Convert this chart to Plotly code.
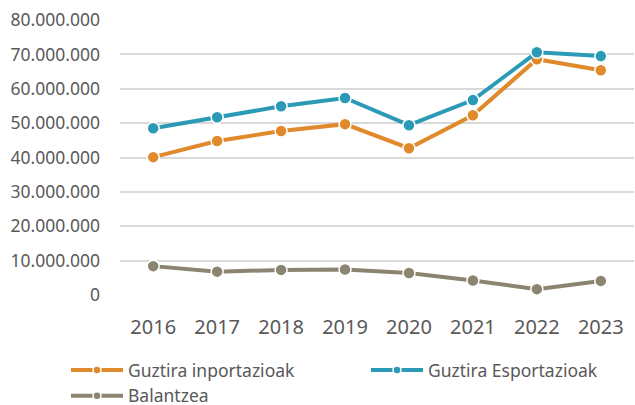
import plotly.graph_objects as go

years = ["2016", "2017", "2018", "2019", "2020", "2021", "2022", "2023"]
imports_total = [40_100_000, 44_800_000, 47_700_000, 49_700_000, 42_700_000, 52_300_000, 68_600_000, 65_400_000]
exports_total = [48_500_000, 51_700_000, 54_900_000, 57_300_000, 49_400_000, 56_700_000, 70_600_000, 69_500_000]
balance = [8_400_000, 6_800_000, 7_300_000, 7_400_000, 6_400_000, 4_200_000, 1_700_000, 4_100_000]

y_ticks = [0, 10_000_000, 20_000_000, 30_000_000, 40_000_000, 50_000_000, 60_000_000, 70_000_000, 80_000_000]
y_tick_text = ["0", "10.000.000", "20.000.000", "30.000.000", "40.000.000",
               "50.000.000", "60.000.000", "70.000.000", "80.000.000"]

series = [
    ("Guztira inportazioak", imports_total, "#E08A2C"),
    ("Guztira Esportazioak", exports_total, "#2A9AB6"),
    ("Balantzea", balance, "#8B8470"),
]

fig = go.Figure()
for name, values, color in series:
    fig.add_trace(go.Scatter(
        x=years, y=values, name=name, mode="lines+markers",
        line=dict(color=color, width=4),
        marker=dict(color=color, size=12, line=dict(color="white", width=1.5)),
        showlegend=False, legendgroup=name,
    ))
# legend keys with a smaller dot than the plotted markers
for name, values, color in series:
    fig.add_trace(go.Scatter(
        x=[None], y=[None], name=name, mode="lines+markers",
        line=dict(color=color, width=4),
        marker=dict(color=color, size=8, line=dict(color="white", width=1.5)),
        showlegend=True, legendgroup=name,
    ))

font_family = "Noto Sans"
text_color = "#595959"

plot_left, plot_w = 120, 514
plot_top, plot_h = 20, 275

fig.update_layout(
    width=635, height=405,
    margin=dict(l=plot_left, r=635 - plot_left - plot_w, t=plot_top,
                b=405 - plot_top - plot_h, autoexpand=False),
    paper_bgcolor="white", plot_bgcolor="white",
    font=dict(family=font_family, color=text_color),
    showlegend=True,
    legend=dict(
        orientation="h",
        x=(66 - plot_left) / plot_w, y=-(352 - plot_top - plot_h) / plot_h,
        xanchor="left", yanchor="top",
        itemwidth=52,
        entrywidth=233, entrywidthmode="pixels",
        font=dict(size=17.5, color=text_color, family=font_family),
        tracegroupgap=0,
        itemclick=False, itemdoubleclick=False,
        bgcolor="rgba(0,0,0,0)",
    ),
    xaxis=dict(
        type="category",
        showgrid=False, showline=False, zeroline=False,
        ticks="", tickfont=dict(size=20, color=text_color),
        ticklabelstandoff=18,
    ),
    yaxis=dict(
        range=[0, 80_000_000],
        tickvals=y_ticks, ticktext=y_tick_text,
        showgrid=True, gridcolor="#D9D9D9", gridwidth=1.5,
        zeroline=False, showline=False,
        ticks="", tickfont=dict(size=17.5, color=text_color),
        ticklabelstandoff=19,
    ),
)

fig.write_html("out.html")
